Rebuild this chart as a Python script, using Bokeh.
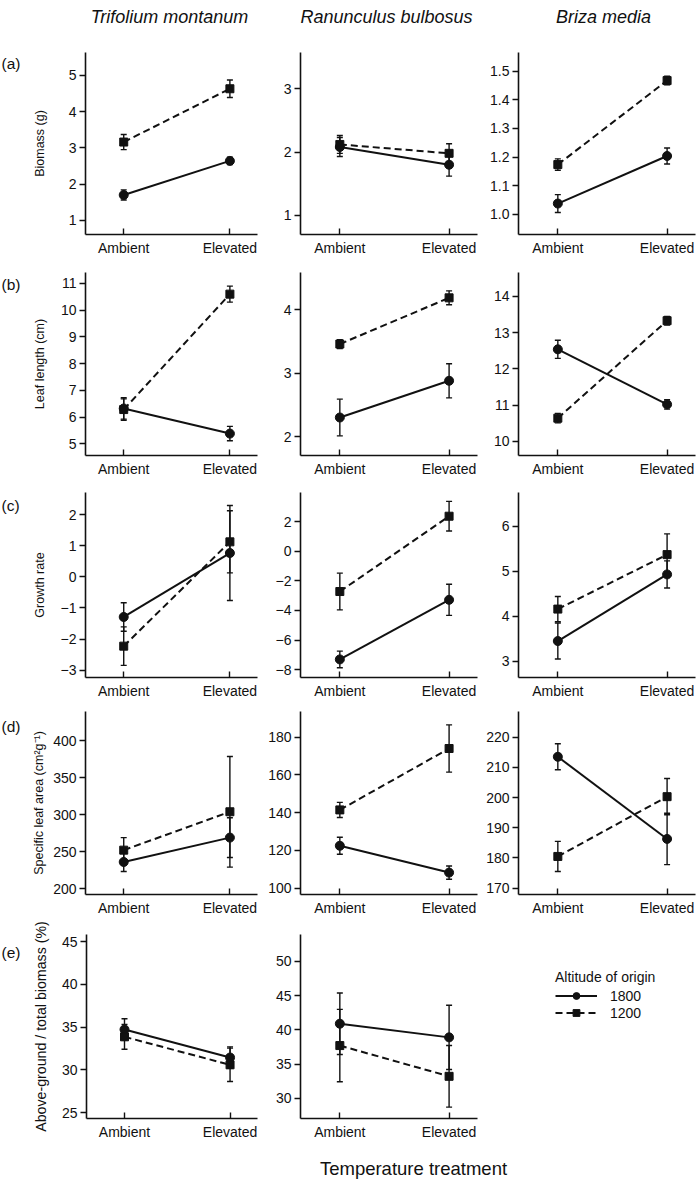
from bokeh.plotting import figure
from bokeh.models import (ColumnDataSource, Whisker, TeeHead, Range1d, FixedTicker,
                          Legend, LegendItem)
from bokeh.core.properties import value
from bokeh.layouts import column, row
from bokeh.embed import file_html
from bokeh.resources import INLINE

# ---------------- data ----------------
categories = ["Ambient", "Elevated"]
species = ["Trifolium montanum", "Ranunculus bulbosus", "Briza media"]
altitudes = ["1800", "1200"]
trait_labels = ["Biomass (g)", "Leaf length (cm)", "Growth rate",
                "Specific leaf area (cm²g⁻¹)", "Above-ground / total biomass (%)"]
panel_tags = ["(a)", "(b)", "(c)", "(d)", "(e)"]
x_title = "Temperature treatment"
legend_title = "Altitude of origin"

# (a) Biomass (g)
bio_tri_1800 = [1.70, 2.64];   bio_tri_1800_se = [0.14, 0.10]
bio_tri_1200 = [3.16, 4.63];   bio_tri_1200_se = [0.21, 0.24]
bio_ran_1800 = [2.08, 1.80];   bio_ran_1800_se = [0.15, 0.18]
bio_ran_1200 = [2.12, 1.98];   bio_ran_1200_se = [0.14, 0.15]
bio_bri_1800 = [1.038, 1.204]; bio_bri_1800_se = [0.031, 0.028]
bio_bri_1200 = [1.174, 1.467]; bio_bri_1200_se = [0.020, 0.015]

# (b) Leaf length (cm)
len_tri_1800 = [6.32, 5.38];   len_tri_1800_se = [0.40, 0.27]
len_tri_1200 = [6.28, 10.60];  len_tri_1200_se = [0.40, 0.30]
len_ran_1800 = [2.30, 2.88];   len_ran_1800_se = [0.29, 0.27]
len_ran_1200 = [3.46, 4.19];   len_ran_1200_se = [0.07, 0.11]
len_bri_1800 = [12.54, 11.02]; len_bri_1800_se = [0.25, 0.13]
len_bri_1200 = [10.64, 13.33]; len_bri_1200_se = [0.13, 0.12]

# (c) Growth rate
gro_tri_1800 = [-1.29, 0.77];  gro_tri_1800_se = [0.46, 1.53]
gro_tri_1200 = [-2.23, 1.13];  gro_tri_1200_se = [0.62, 1.00]
gro_ran_1800 = [-7.30, -3.28]; gro_ran_1800_se = [0.56, 1.05]
gro_ran_1200 = [-2.72, 2.36];  gro_ran_1200_se = [1.24, 1.00]
gro_bri_1800 = [3.45, 4.93];   gro_bri_1800_se = [0.40, 0.30]
gro_bri_1200 = [4.16, 5.37];   gro_bri_1200_se = [0.28, 0.46]

# (d) Specific leaf area (cm2 g-1)
sla_tri_1800 = [236.0, 269.0]; sla_tri_1800_se = [13.0, 27.0]
sla_tri_1200 = [252.0, 304.0]; sla_tri_1200_se = [17.0, 75.0]
sla_ran_1800 = [122.5, 108.3]; sla_ran_1800_se = [4.5, 3.5]
sla_ran_1200 = [141.5, 174.0]; sla_ran_1200_se = [4.0, 12.5]
sla_bri_1800 = [213.5, 186.3]; sla_bri_1800_se = [4.3, 8.5]
sla_bri_1200 = [180.5, 200.3]; sla_bri_1200_se = [5.0, 6.0]

# (e) Above-ground / total biomass (%)
abv_tri_1800 = [34.73, 31.45]; abv_tri_1800_se = [1.25, 1.25]
abv_tri_1200 = [33.87, 30.60]; abv_tri_1200_se = [1.45, 1.95]
abv_ran_1800 = [40.90, 38.90]; abv_ran_1800_se = [4.50, 4.70]
abv_ran_1200 = [37.70, 33.20]; abv_ran_1200_se = [5.30, 4.50]

# tick values and labels
bio_tri_ticks = [1, 2, 3, 4, 5];                bio_tri_tick_labels = ["1", "2", "3", "4", "5"]
bio_ran_ticks = [1, 2, 3];                      bio_ran_tick_labels = ["1", "2", "3"]
bio_bri_ticks = [1.0, 1.1, 1.2, 1.3, 1.4, 1.5]; bio_bri_tick_labels = ["1.0", "1.1", "1.2", "1.3", "1.4", "1.5"]
len_tri_ticks = [5, 6, 7, 8, 9, 10, 11];        len_tri_tick_labels = ["5", "6", "7", "8", "9", "10", "11"]
len_ran_ticks = [2, 3, 4];                      len_ran_tick_labels = ["2", "3", "4"]
len_bri_ticks = [10, 11, 12, 13, 14];           len_bri_tick_labels = ["10", "11", "12", "13", "14"]
gro_tri_ticks = [-3, -2, -1, 0, 1, 2];          gro_tri_tick_labels = ["−3", "−2", "−1", "0", "1", "2"]
gro_ran_ticks = [-8, -6, -4, -2, 0, 2];         gro_ran_tick_labels = ["−8", "−6", "−4", "−2", "0", "2"]
gro_bri_ticks = [3, 4, 5, 6];                   gro_bri_tick_labels = ["3", "4", "5", "6"]
sla_tri_ticks = [200, 250, 300, 350, 400];      sla_tri_tick_labels = ["200", "250", "300", "350", "400"]
sla_ran_ticks = [100, 120, 140, 160, 180];      sla_ran_tick_labels = ["100", "120", "140", "160", "180"]
sla_bri_ticks = [170, 180, 190, 200, 210, 220]; sla_bri_tick_labels = ["170", "180", "190", "200", "210", "220"]
abv_tri_ticks = [25, 30, 35, 40, 45];           abv_tri_tick_labels = ["25", "30", "35", "40", "45"]
abv_ran_ticks = [30, 35, 40, 45, 50];           abv_ran_tick_labels = ["30", "35", "40", "45", "50"]

# ---------------- layout / style ----------------
FONT = "Liberation Sans"
INK = "#111111"
XR = (-0.36, 1.26)
TOTAL_W = 699
STRIP_W = 29
COL_W = [230, 221, 219]
COL_LEFT = [52, 41, 38]
FRAME_W = [176, 177, 177]
TOP_H = 40
BOTTOM_H = 38
ROW_H = [222, 220, 220, 216, 226]
ROW_TOP = [12, 10, 10, 9, 16]
FRAME_H = [182, 183, 185, 185, 184]
TAG_DY = [-2, -5, -6, -9, -6]      # panel tag centre relative to the frame top (px, up positive)
YLABEL_SIZE = ["12.5px", "12.5px", "12.5px", "12.5px", "14.2px"]
YLABEL_STANDOFF = [19, 11, 11, 4, 10]
TITLE_X = [169, 386, 603]


def blank(w, h):
    p = figure(width=w, height=h, x_range=Range1d(0, w), y_range=Range1d(0, h),
               x_axis_type=None, y_axis_type=None, output_backend="svg",
               toolbar_location=None, tools="", title=None, min_border=0)
    p.outline_line_color = None
    p.background_fill_color = None
    p.border_fill_color = None
    return p


def make_panel(r, c, m18, s18, m12, s12, yr, ticks, tick_labels):
    w = COL_W[c]
    fw = FRAME_W[c]
    left = COL_LEFT[c]
    right = w - left - fw
    h = ROW_H[r]
    top = ROW_TOP[r]
    fh = FRAME_H[r]
    bottom = h - top - fh
    p = figure(width=w, height=h, x_range=Range1d(*XR), y_range=Range1d(*yr),
               output_backend="svg", toolbar_location=None, tools="", title=None,
               min_border_left=left, min_border_right=right,
               min_border_top=top, min_border_bottom=bottom)
    p.xgrid.visible = False
    p.ygrid.visible = False
    p.outline_line_color = None
    p.background_fill_color = None
    p.border_fill_color = None

    xs = list(range(len(categories)))
    p.xaxis.ticker = FixedTicker(ticks=xs)
    p.xaxis.major_label_overrides = {i: cat for i, cat in zip(xs, categories)}
    p.yaxis.ticker = FixedTicker(ticks=ticks)
    p.yaxis.major_label_overrides = {t: lab for t, lab in zip(ticks, tick_labels)}
    for ax in (p.xaxis[0], p.yaxis[0]):
        ax.axis_line_width = 1.6
        ax.axis_line_color = INK
        ax.major_tick_line_width = 1.4
        ax.major_tick_line_color = INK
        ax.minor_tick_line_color = None
        ax.major_label_text_font = FONT
        ax.major_label_text_font_size = "14px"
        ax.major_label_text_color = INK
    p.xaxis.major_tick_in = 6
    p.xaxis.major_tick_out = 0
    p.xaxis.major_label_standoff = 5
    p.yaxis.major_tick_in = 0
    p.yaxis.major_tick_out = 6
    p.yaxis.major_label_standoff = 3

    if c == 0:
        p.yaxis.axis_label = trait_labels[r]
        p.yaxis.axis_label_text_font = FONT
        p.yaxis.axis_label_text_font_size = YLABEL_SIZE[r]
        p.yaxis.axis_label_text_font_style = "normal"
        p.yaxis.axis_label_text_color = INK
        p.yaxis.axis_label_standoff = YLABEL_STANDOFF[r]

    for alt, m, s, marker, size, dash in (("1800", m18, s18, "circle", 9, "solid"),
                                          ("1200", m12, s12, "square", 8, "7 4")):
        src = ColumnDataSource(dict(x=xs, y=m,
                                    upper=[a + b for a, b in zip(m, s)],
                                    lower=[a - b for a, b in zip(m, s)]))
        p.add_layout(Whisker(source=src, base="x", upper="upper", lower="lower",
                             line_width=1.4, line_color=INK,
                             upper_head=TeeHead(size=6, line_width=1.4, line_color=INK),
                             lower_head=TeeHead(size=6, line_width=1.4, line_color=INK)))
        p.line("x", "y", source=src, line_width=2, line_color=INK, line_dash=dash)
        p.scatter("x", "y", source=src, marker=marker, size=size,
                  fill_color=INK, line_color=INK)
    return p


panels = [
    [(bio_tri_1800, bio_tri_1800_se, bio_tri_1200, bio_tri_1200_se, (0.61, 5.63), bio_tri_ticks, bio_tri_tick_labels),
     (bio_ran_1800, bio_ran_1800_se, bio_ran_1200, bio_ran_1200_se, (0.70, 3.57), bio_ran_ticks, bio_ran_tick_labels),
     (bio_bri_1800, bio_bri_1800_se, bio_bri_1200, bio_bri_1200_se, (0.93, 1.565), bio_bri_ticks, bio_bri_tick_labels)],
    [(len_tri_1800, len_tri_1800_se, len_tri_1200, len_tri_1200_se, (4.56, 11.41), len_tri_ticks, len_tri_tick_labels),
     (len_ran_1800, len_ran_1800_se, len_ran_1200, len_ran_1200_se, (1.70, 4.59), len_ran_ticks, len_ran_tick_labels),
     (len_bri_1800, len_bri_1800_se, len_bri_1200, len_bri_1200_se, (9.61, 14.66), len_bri_ticks, len_bri_tick_labels)],
    [(gro_tri_1800, gro_tri_1800_se, gro_tri_1200, gro_tri_1200_se, (-3.24, 2.72), gro_tri_ticks, gro_tri_tick_labels),
     (gro_ran_1800, gro_ran_1800_se, gro_ran_1200, gro_ran_1200_se, (-8.52, 3.96), gro_ran_ticks, gro_ran_tick_labels),
     (gro_bri_1800, gro_bri_1800_se, gro_bri_1200, gro_bri_1200_se, (2.64, 6.75), gro_bri_ticks, gro_bri_tick_labels)],
    [(sla_tri_1800, sla_tri_1800_se, sla_tri_1200, sla_tri_1200_se, (191.9, 439.9), sla_tri_ticks, sla_tri_tick_labels),
     (sla_ran_1800, sla_ran_1800_se, sla_ran_1200, sla_ran_1200_se, (96.7, 193.6), sla_ran_ticks, sla_ran_tick_labels),
     (sla_bri_1800, sla_bri_1800_se, sla_bri_1200, sla_bri_1200_se, (167.9, 228.5), sla_bri_ticks, sla_bri_tick_labels)],
    [(abv_tri_1800, abv_tri_1800_se, abv_tri_1200, abv_tri_1200_se, (24.33, 45.82), abv_tri_ticks, abv_tri_tick_labels),
     (abv_ran_1800, abv_ran_1800_se, abv_ran_1200, abv_ran_1200_se, (27.03, 53.95), abv_ran_ticks, abv_ran_tick_labels)],
]

# top strip with species names
top = blank(TOTAL_W, TOP_H)
top.text(x=TITLE_X, y=[TOP_H - 16] * len(species), text=species,
         text_font=value(FONT), text_font_size="18px", text_font_style="italic",
         text_color=INK, text_align="center", text_baseline="middle")

rows = [top]
for r, row_specs in enumerate(panels):
    strip = blank(STRIP_W, ROW_H[r])
    strip.text(x=[1], y=[ROW_H[r] - ROW_TOP[r] + TAG_DY[r]], text=[panel_tags[r]],
               text_font=value(FONT), text_font_size="15.5px", text_color=INK,
               text_align="left", text_baseline="middle")
    figs = [strip]
    for c, spec in enumerate(row_specs):
        figs.append(make_panel(r, c, *spec))
    if len(row_specs) < 3:
        # legend panel (legend renderers hold no drawable data)
        lp = blank(COL_W[2], ROW_H[r])
        items = []
        for alt, marker, size, dash in (("1800", "circle", 9, "solid"), ("1200", "square", 8, "7 4")):
            lsrc = ColumnDataSource(dict(x=[float("nan")], y=[float("nan")]))
            lr = lp.line("x", "y", source=lsrc, line_width=2, line_color=INK, line_dash=dash)
            sr = lp.scatter("x", "y", source=lsrc, marker=marker, size=size,
                            fill_color=INK, line_color=INK)
            items.append(LegendItem(label=alt, renderers=[lr, sr]))
        legend = Legend(items=items, title=legend_title, location=(75, 97),
                        title_text_font=FONT, title_text_font_size="14px",
                        title_text_font_style="normal", title_text_color=INK,
                        title_standoff=2,
                        label_text_font=FONT, label_text_font_size="14px",
                        label_text_color=INK, label_standoff=13,
                        glyph_width=42, glyph_height=17, label_height=17,
                        spacing=0, padding=0, margin=0,
                        border_line_alpha=0, background_fill_alpha=0)
        lp.add_layout(legend)
        figs.append(lp)
    rows.append(row(*figs))

bottom = blank(TOTAL_W, BOTTOM_H)
bottom.text(x=[413], y=[BOTTOM_H - 24], text=[x_title],
            text_font=value(FONT), text_font_size="18.5px", text_color=INK,
            text_align="center", text_baseline="middle")
rows.append(bottom)

layout = column(*rows)
open("out.html", "w").write(file_html(layout, INLINE))
